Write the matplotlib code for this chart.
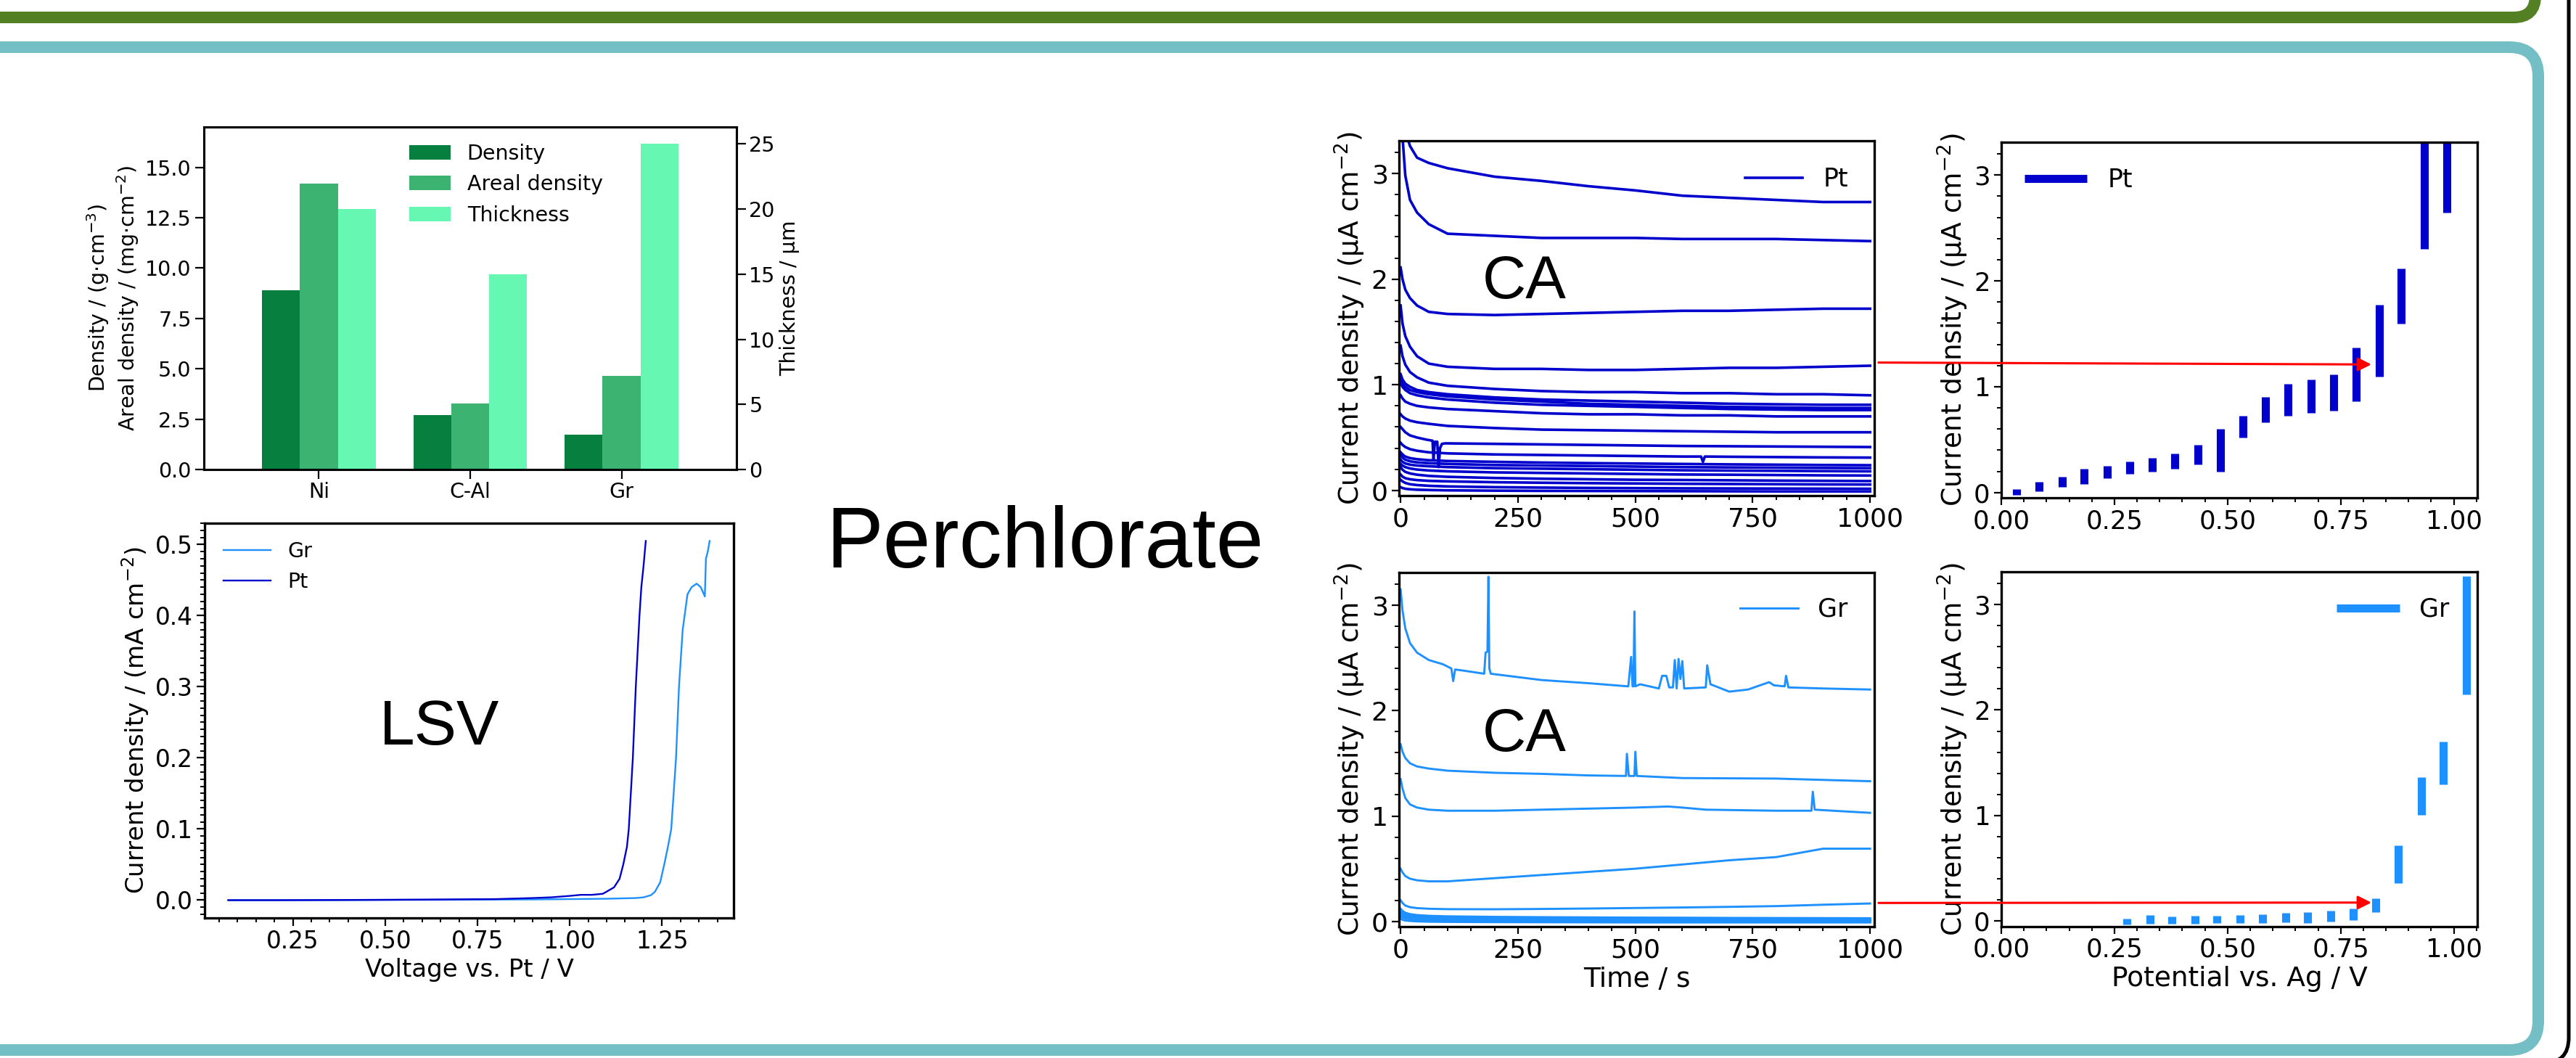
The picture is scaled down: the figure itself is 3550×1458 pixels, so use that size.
import matplotlib
matplotlib.use("Agg")
import matplotlib.pyplot as plt
from matplotlib.patches import FancyBboxPatch, ConnectionPatch
from matplotlib.ticker import MultipleLocator
import numpy as np

plt.rcParams['font.family'] = ['DejaVu Sans']
plt.rcParams['mathtext.fontset'] = 'dejavusans'

# ---------------------------------------------------------------- data
materials = ['Ni', 'C-Al', 'Gr']
density = [8.9, 2.7, 1.72]
areal_density = [14.2, 3.28, 4.66]
thickness = [20.0, 15.0, 25.0]

lsv_gr_v = [0.075, 0.3, 0.6, 0.9, 1.1, 1.18, 1.2, 1.22, 1.231, 1.245, 1.256, 1.266,
            1.275, 1.288, 1.296, 1.306, 1.319, 1.33, 1.344, 1.355, 1.366, 1.369, 1.374, 1.379]
lsv_gr_j = [0.0, 0.0, 0.0005, 0.001, 0.002, 0.003, 0.004, 0.007, 0.012, 0.025, 0.05, 0.075,
            0.10, 0.20, 0.30, 0.38, 0.43, 0.44, 0.445, 0.44, 0.427, 0.48, 0.49, 0.505]
lsv_pt_v = [0.075, 0.2, 0.4, 0.6, 0.8, 0.9, 0.95, 1.0, 1.03, 1.06, 1.09, 1.12, 1.135,
            1.145, 1.155, 1.16, 1.171, 1.179, 1.189, 1.194, 1.2, 1.206]
lsv_pt_j = [0.0, 0.0, 0.0003, 0.0008, 0.0015, 0.003, 0.004, 0.006, 0.0075, 0.0075, 0.009,
            0.018, 0.03, 0.05, 0.075, 0.10, 0.20, 0.30, 0.40, 0.44, 0.47, 0.505]

# chronoamperometry, common time grid (s)
ca_time = [0, 4, 10, 20, 35, 60, 100, 200, 300, 400, 500, 600, 700, 800, 900, 1000]

# Pt CA curves (uA cm-2), one row per potential
pt_ca_rows = [
    [0.03, 0.022, 0.015, 0.01, 0.006, 0.003, 0.0, -0.003, -0.005, -0.006, -0.007, -0.008, -0.009, -0.01, -0.01, -0.01],
    [0.10, 0.085, 0.07, 0.058, 0.05, 0.043, 0.037, 0.03, 0.026, 0.023, 0.021, 0.019, 0.018, 0.017, 0.016, 0.015],
    [0.15, 0.13, 0.115, 0.105, 0.097, 0.09, 0.085, 0.077, 0.072, 0.068, 0.065, 0.062, 0.06, 0.058, 0.056, 0.055],
    [0.22, 0.195, 0.175, 0.16, 0.148, 0.137, 0.128, 0.117, 0.11, 0.105, 0.10, 0.098, 0.095, 0.092, 0.09, 0.088],
    [0.25, 0.235, 0.22, 0.207, 0.197, 0.188, 0.18, 0.17, 0.165, 0.16, 0.155, 0.15, 0.148, 0.145, 0.142, 0.14],
    [0.29, 0.27, 0.255, 0.243, 0.235, 0.228, 0.22, 0.21, 0.205, 0.20, 0.195, 0.19, 0.187, 0.185, 0.182, 0.18],
    [0.33, 0.31, 0.29, 0.275, 0.265, 0.257, 0.25, 0.24, 0.235, 0.23, 0.225, 0.22, 0.217, 0.215, 0.212, 0.21],
    [0.36, 0.34, 0.32, 0.305, 0.295, 0.285, 0.278, 0.27, 0.263, 0.258, 0.254, 0.25, 0.246, 0.243, 0.24, 0.238],
    [0.72, 0.70, 0.68, 0.66, 0.645, 0.63, 0.61, 0.59, 0.575, 0.57, 0.565, 0.56, 0.555, 0.55, 0.55, 0.55],
    [0.90, 0.87, 0.84, 0.82, 0.80, 0.785, 0.77, 0.75, 0.73, 0.72, 0.72, 0.71, 0.71, 0.70, 0.70, 0.70],
    [1.02, 0.98, 0.95, 0.92, 0.90, 0.88, 0.86, 0.83, 0.81, 0.80, 0.79, 0.78, 0.77, 0.765, 0.76, 0.76],
    [1.06, 1.01, 0.98, 0.95, 0.93, 0.91, 0.89, 0.86, 0.84, 0.82, 0.81, 0.80, 0.79, 0.785, 0.78, 0.78],
    [1.10, 1.05, 1.01, 0.98, 0.95, 0.93, 0.91, 0.88, 0.86, 0.85, 0.84, 0.83, 0.82, 0.815, 0.81, 0.81],
    [1.37, 1.27, 1.19, 1.12, 1.07, 1.02, 0.99, 0.96, 0.94, 0.93, 0.93, 0.92, 0.92, 0.91, 0.91, 0.90],
    [1.75, 1.58, 1.46, 1.36, 1.27, 1.20, 1.17, 1.15, 1.15, 1.14, 1.14, 1.15, 1.16, 1.16, 1.17, 1.18],
    [2.11, 2.00, 1.90, 1.82, 1.75, 1.69, 1.67, 1.66, 1.67, 1.68, 1.69, 1.70, 1.70, 1.71, 1.72, 1.72],
    [3.90, 3.35, 2.98, 2.75, 2.63, 2.52, 2.43, 2.41, 2.39, 2.39, 2.39, 2.38, 2.38, 2.38, 2.37, 2.36],
    [3.90, 3.60, 3.40, 3.26, 3.15, 3.10, 3.05, 2.97, 2.93, 2.88, 2.84, 2.79, 2.77, 2.75, 2.73, 2.73],
]
pt_ca_043_t = [0, 4, 10, 20, 35, 60, 100, 200, 300, 400, 500, 600, 640, 644, 648, 700, 800, 900, 1000]
pt_ca_043_j = [0.45, 0.43, 0.41, 0.39, 0.375, 0.36, 0.35, 0.34, 0.335, 0.33, 0.325, 0.32, 0.32,
               0.27, 0.32, 0.318, 0.315, 0.312, 0.31]
pt_ca_048_t = [0, 4, 10, 20, 35, 55, 68, 70, 73, 78, 81, 84, 88, 95, 200, 400, 600, 800, 1000]
pt_ca_048_j = [0.60, 0.58, 0.55, 0.52, 0.50, 0.48, 0.47, 0.29, 0.46, 0.46, 0.22, 0.40, 0.44,
               0.445, 0.44, 0.43, 0.42, 0.415, 0.41]

# Gr CA curves
gr_ca_rows = [
    [0.024, 0.015, 0.008, 0.004, 0.0, -0.003, -0.005, -0.007, -0.008, -0.009, -0.01, -0.01, -0.01, -0.01, -0.01, -0.01],
    [0.054, 0.04, 0.03, 0.022, 0.016, 0.012, 0.009, 0.006, 0.004, 0.003, 0.002, 0.001, 0.0, 0.0, 0.0, 0.0],
    [0.045, 0.036, 0.028, 0.022, 0.018, 0.014, 0.011, 0.008, 0.006, 0.005, 0.004, 0.003, 0.003, 0.002, 0.002, 0.002],
    [0.048, 0.039, 0.031, 0.025, 0.02, 0.016, 0.013, 0.01, 0.008, 0.007, 0.006, 0.005, 0.005, 0.004, 0.004, 0.004],
    [0.05, 0.041, 0.033, 0.027, 0.022, 0.018, 0.015, 0.012, 0.01, 0.009, 0.008, 0.007, 0.006, 0.006, 0.005, 0.005],
    [0.06, 0.05, 0.04, 0.033, 0.027, 0.022, 0.019, 0.015, 0.013, 0.012, 0.011, 0.01, 0.009, 0.009, 0.008, 0.008],
    [0.066, 0.055, 0.045, 0.037, 0.031, 0.026, 0.022, 0.018, 0.016, 0.015, 0.013, 0.012, 0.011, 0.011, 0.01, 0.01],
    [0.074, 0.062, 0.051, 0.042, 0.036, 0.031, 0.027, 0.023, 0.021, 0.019, 0.018, 0.017, 0.016, 0.016, 0.015, 0.015],
    [0.083, 0.07, 0.058, 0.049, 0.042, 0.036, 0.032, 0.028, 0.026, 0.024, 0.023, 0.022, 0.021, 0.021, 0.02, 0.02],
    [0.095, 0.08, 0.067, 0.057, 0.049, 0.043, 0.039, 0.035, 0.032, 0.03, 0.029, 0.028, 0.027, 0.026, 0.025, 0.025],
    [0.12, 0.10, 0.082, 0.069, 0.06, 0.053, 0.048, 0.043, 0.04, 0.038, 0.036, 0.035, 0.033, 0.032, 0.031, 0.03],
    [0.20, 0.175, 0.15, 0.135, 0.126, 0.12, 0.116, 0.115, 0.118, 0.122, 0.127, 0.132, 0.138, 0.145, 0.158, 0.17],
    [0.50, 0.465, 0.43, 0.405, 0.39, 0.38, 0.38, 0.41, 0.44, 0.47, 0.50, 0.54, 0.58, 0.61, 0.69, 0.69],
]
gr_ca_093_t = [0, 4, 10, 20, 35, 60, 100, 200, 300, 400, 500, 570, 600, 650, 800, 875, 878, 882, 1000]
gr_ca_093_j = [1.35, 1.26, 1.17, 1.11, 1.08, 1.06, 1.05, 1.05, 1.06, 1.07, 1.08, 1.09, 1.08, 1.06,
               1.05, 1.05, 1.23, 1.06, 1.03]
gr_ca_098_t = [0, 4, 10, 20, 35, 60, 100, 200, 300, 400, 480, 482, 486, 498, 500, 503, 600, 800, 1000]
gr_ca_098_j = [1.68, 1.61, 1.55, 1.50, 1.47, 1.45, 1.43, 1.41, 1.40, 1.385, 1.38, 1.59, 1.38, 1.38,
               1.61, 1.38, 1.36, 1.355, 1.33]
gr_ca_103_t = [0, 4, 10, 20, 35, 60, 90, 108, 112, 116, 133, 178, 181, 185, 187, 189, 192, 300, 400,
               485, 491, 494, 496, 498, 500, 510, 550, 557, 566, 572, 580, 584, 588, 592, 596, 600,
               604, 650, 653, 660, 700, 740, 785, 795, 818, 821, 826, 900, 1000]
gr_ca_103_j = [3.15, 2.95, 2.78, 2.64, 2.55, 2.48, 2.44, 2.40, 2.28, 2.39, 2.38, 2.35, 2.55, 2.56,
               3.27, 2.40, 2.35, 2.29, 2.26, 2.23, 2.51, 2.23, 2.23, 2.94, 2.23, 2.25, 2.21, 2.33,
               2.33, 2.22, 2.22, 2.48, 2.21, 2.49, 2.30, 2.47, 2.21, 2.22, 2.43, 2.25, 2.18, 2.20,
               2.27, 2.24, 2.23, 2.33, 2.22, 2.21, 2.20]

# current range at each potential (right panels)
pt_pot = [0.034, 0.083, 0.134, 0.183, 0.234, 0.284, 0.334, 0.384, 0.434, 0.484,
          0.534, 0.584, 0.634, 0.684, 0.734, 0.784, 0.835, 0.884, 0.935, 0.984]
pt_low = [-0.02, 0.01, 0.05, 0.08, 0.135, 0.176, 0.20, 0.225, 0.266, 0.20,
          0.518, 0.665, 0.727, 0.754, 0.773, 0.862, 1.093, 1.595, 2.305, 2.645]
pt_high = [0.03, 0.10, 0.15, 0.225, 0.25, 0.29, 0.33, 0.366, 0.45, 0.60,
           0.727, 0.90, 1.03, 1.066, 1.115, 1.37, 1.776, 2.12, 3.6, 3.6]
gr_pot = [0.277, 0.328, 0.377, 0.428, 0.477, 0.528, 0.577, 0.628, 0.677, 0.728,
          0.777, 0.828, 0.878, 0.928, 0.977, 1.028]
gr_low = [-0.03, -0.024, -0.024, -0.024, -0.02, -0.018, -0.018, -0.012, -0.018, -0.006,
          0.006, 0.083, 0.357, 1.007, 1.296, 2.145]
gr_high = [0.024, 0.054, 0.045, 0.048, 0.05, 0.06, 0.066, 0.074, 0.083, 0.095,
           0.12, 0.215, 0.715, 1.364, 1.698, 3.27]

# ---------------------------------------------------------------- style
W, H, DPI = 3550, 1458, 100
PT_C = '#0000CD'
GR_C = '#1E90FF'
C_DEN, C_ARE, C_THK = '#07803F', '#3DB371', '#66F7B2'
HEAD = 'Liberation Sans'

fig = plt.figure(figsize=(W / DPI, H / DPI), dpi=DPI)


def px_axes(l, t, r, b):
    return fig.add_axes([l / W, 1 - b / H, (r - l) / W, (b - t) / H])


def deco(x0, yt, x1, yb, rad, lw_px, color):
    p = FancyBboxPatch((x0 / DPI, (H - yb) / DPI), (x1 - x0) / DPI, (yb - yt) / DPI,
                       boxstyle=f"round,pad=0,rounding_size={rad / DPI}",
                       transform=fig.dpi_scale_trans, fill=False, ec=color,
                       lw=lw_px * 72 / DPI, zorder=-5)
    fig.add_artist(p)


deco(-300, -300, 3494, 24, 30, 16, '#548024')
deco(-300, 65, 3498, 1447, 40, 16, '#74BFC5')
deco(-300, -300, 3540, 1465, 35, 5, 'black')


def style(ax, fs, major=8, minor=4.5, spw=2.4):
    for s in ax.spines.values():
        s.set_linewidth(spw)
    ax.tick_params(which='major', length=major, width=1.6, labelsize=fs)
    ax.tick_params(which='minor', length=minor, width=1.4)


# ---------------------------------------------------------------- bar chart
ax1 = px_axes(281, 175, 1015, 647)
x = np.arange(len(materials))
w = 0.25
b1 = ax1.bar(x - w, density, w, color=C_DEN, label='Density')
b2 = ax1.bar(x, areal_density, w, color=C_ARE, label='Areal density')
ax1b = ax1.twinx()
b3 = ax1b.bar(x + w, thickness, w, color=C_THK, label='Thickness')
ax1.set_xlim(-0.76, 2.76)
ax1.set_ylim(0, 17.0)
ax1b.set_ylim(0, 26.3)
ax1.set_xticks(x)
ax1.set_xticklabels(materials)
ax1.yaxis.set_major_locator(MultipleLocator(2.5))
ax1b.yaxis.set_major_locator(MultipleLocator(5))
ax1.set_ylabel('Density / (g$\\cdot$cm$^{-3}$)\nAreal density / (mg$\\cdot$cm$^{-2}$)', fontsize=20.5)
ax1b.set_ylabel('Thickness / μm', fontsize=20.5)
style(ax1, 20.5, major=9, spw=2.2)
style(ax1b, 20.5, major=9, spw=2.2)
ax1b.legend([b1, b2, b3], ['Density', 'Areal density', 'Thickness'], loc='upper left',
            bbox_to_anchor=(0.37, 0.975), borderaxespad=0, frameon=False, fontsize=20.5)

# ---------------------------------------------------------------- LSV
ax2 = px_axes(282, 721, 1011, 1265)
ax2.plot(lsv_gr_v, lsv_gr_j, color=GR_C, lw=1.7, label='Gr')
ax2.plot(lsv_pt_v, lsv_pt_j, color=PT_C, lw=1.7, label='Pt')
ax2.set_xlim(0.011, 1.444)
ax2.set_ylim(-0.025, 0.53)
ax2.xaxis.set_major_locator(MultipleLocator(0.25))
ax2.xaxis.set_minor_locator(MultipleLocator(0.05))
ax2.yaxis.set_major_locator(MultipleLocator(0.1))
ax2.yaxis.set_minor_locator(MultipleLocator(0.01))
ax2.set_xlabel('Voltage vs. Pt / V', fontsize=24.5)
ax2.set_ylabel('Current density / (mA cm$^{-2}$)', fontsize=24.5)
style(ax2, 23.5)
ax2.legend(loc='upper left', bbox_to_anchor=(0.02, 0.975), borderaxespad=0, frameon=False,
           fontsize=20.5, handlelength=2.3)
ax2.text(0.444, 0.439, 'LSV', transform=ax2.transAxes, ha='center', va='baseline',
         fontsize=63, family=HEAD)

fig.text(1440 / W, 1 - 782 / H, 'Perchlorate', ha='center', va='baseline', fontsize=85, family=HEAD)


# ---------------------------------------------------------------- CA panels
def ca_axes(ax, xlabel=None):
    ax.set_xlim(-3.4, 1009)
    ax.set_ylim(-0.05, 3.31)
    ax.xaxis.set_major_locator(MultipleLocator(250))
    ax.xaxis.set_minor_locator(MultipleLocator(50))
    ax.yaxis.set_major_locator(MultipleLocator(1))
    ax.yaxis.set_minor_locator(MultipleLocator(0.2))
    ax.set_ylabel('Current density / (µA cm$^{-2}$)', fontsize=27)
    if xlabel:
        ax.set_xlabel(xlabel, fontsize=27)
    style(ax, 26, major=7.5, minor=4)


def pot_axes(ax, xlabel=None):
    ax.set_xlim(0, 1.052)
    ax.set_ylim(-0.05, 3.31)
    ax.xaxis.set_major_locator(MultipleLocator(0.25))
    ax.xaxis.set_minor_locator(MultipleLocator(0.05))
    ax.yaxis.set_major_locator(MultipleLocator(1))
    ax.yaxis.set_minor_locator(MultipleLocator(0.2))
    ax.set_ylabel('Current density / (µA cm$^{-2}$)', fontsize=27)
    if xlabel:
        ax.set_xlabel(xlabel, fontsize=27)
    style(ax, 25.5, major=7.5, minor=4)


ax3 = px_axes(1928, 194, 2583, 683)
for i, row in enumerate(pt_ca_rows):
    ax3.plot(ca_time, row, color=PT_C, lw=2.6, label='Pt' if i == 0 else None)
ax3.plot(pt_ca_043_t, pt_ca_043_j, color=PT_C, lw=2.6)
ax3.plot(pt_ca_048_t, pt_ca_048_j, color=PT_C, lw=2.6)
ca_axes(ax3)
ax3.legend(loc='upper right', bbox_to_anchor=(0.966, 0.955), borderaxespad=0, frameon=False,
           fontsize=25, handlelength=2.3)
ax3.text(0.263, 0.556, 'CA', transform=ax3.transAxes, ha='center', va='baseline',
         fontsize=60, family=HEAD)

ax4 = px_axes(2758, 196, 3414, 686)
ax4.vlines(pt_pot, pt_low, pt_high, color=PT_C, lw=8, label='Pt')
pot_axes(ax4)
ax4.legend(loc='upper left', bbox_to_anchor=(0.027, 0.957), borderaxespad=0, frameon=False,
           fontsize=25, handlelength=2.5)

ax5 = px_axes(1928, 789, 2583, 1277)
for i, row in enumerate(gr_ca_rows):
    ax5.plot(ca_time, row, color=GR_C, lw=2.1, label='Gr' if i == 0 else None)
ax5.plot(gr_ca_093_t, gr_ca_093_j, color=GR_C, lw=2.1)
ax5.plot(gr_ca_098_t, gr_ca_098_j, color=GR_C, lw=2.1)
ax5.plot(gr_ca_103_t, gr_ca_103_j, color=GR_C, lw=2.1)
ca_axes(ax5, 'Time / s')
ax5.legend(loc='upper right', bbox_to_anchor=(0.966, 0.959), borderaxespad=0, frameon=False,
           fontsize=25, handlelength=2.3)
ax5.text(0.263, 0.496, 'CA', transform=ax5.transAxes, ha='center', va='baseline',
         fontsize=60, family=HEAD)

ax6 = px_axes(2758, 788, 3414, 1276.5)
ax6.vlines(gr_pot, gr_low, gr_high, color=GR_C, lw=8, label='Gr')
pot_axes(ax6, 'Potential vs. Ag / V')
ax6.legend(loc='upper right', bbox_to_anchor=(0.963, 0.957), borderaxespad=0, frameon=False,
           fontsize=25, handlelength=2.5)

# red arrows linking CA traces to the potential plots
for axa, axb, yv in [(ax3, ax4, 1.21), (ax5, ax6, 0.175)]:
    con = ConnectionPatch(xyA=(1018, yv), coordsA=axa.transData,
                          xyB=(0.818, yv), coordsB=axb.transData,
                          arrowstyle='-|>', color='red', lw=2.2, mutation_scale=28)
    con.set_zorder(10)
    fig.add_artist(con)

fig.savefig('out.png', dpi=DPI)
